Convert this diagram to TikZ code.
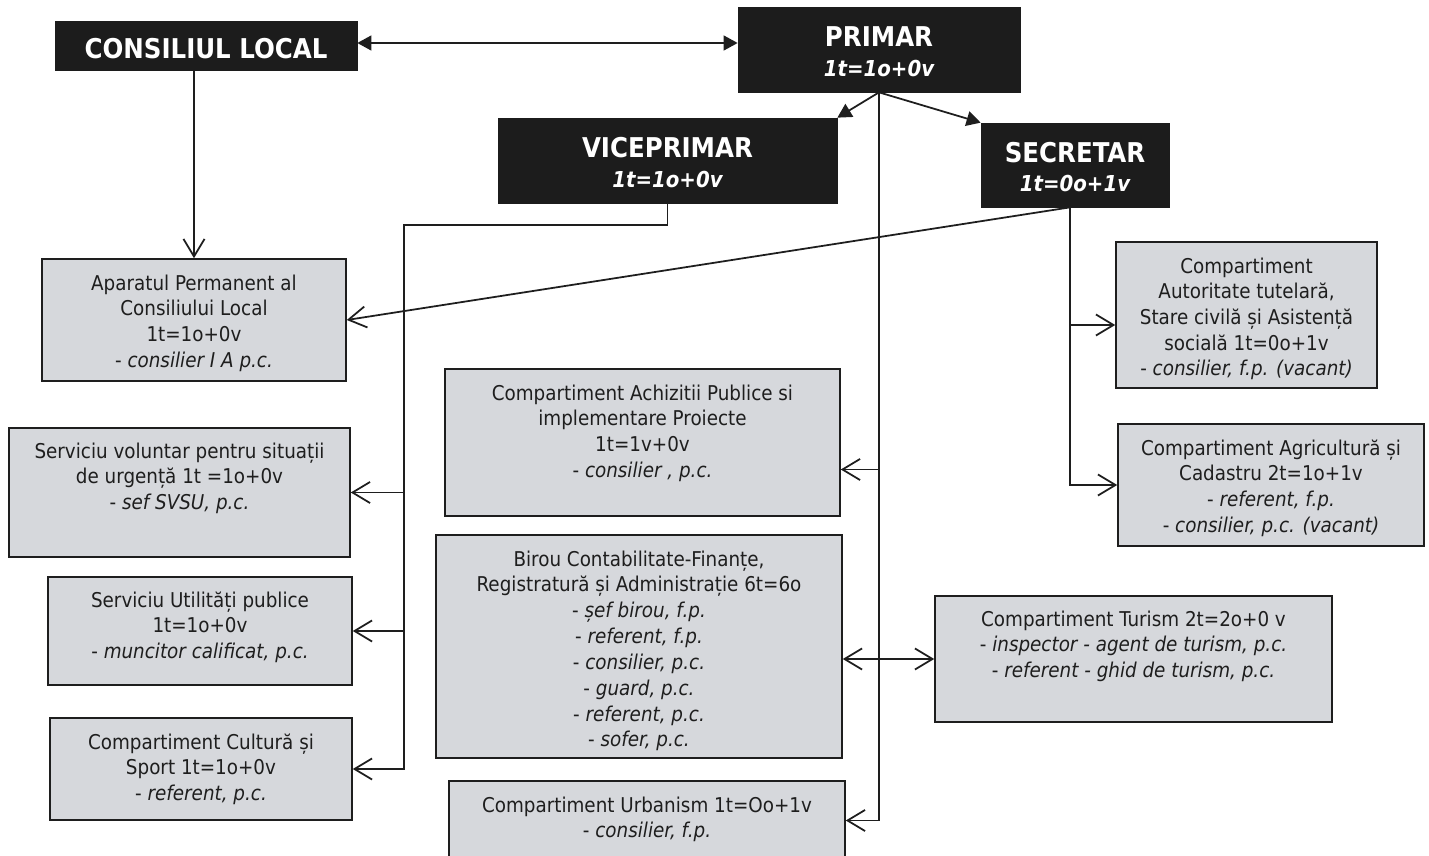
\documentclass[tikz,border=0pt]{standalone}
\usepackage{fontspec}
\setmainfont{DejaVu Sans Condensed}
\usetikzlibrary{arrows.meta,fit,calc}
\definecolor{boxgray}{RGB}{214,216,220}
\definecolor{boxblack}{RGB}{28,28,28}
\definecolor{ink}{RGB}{30,30,30}
\begin{document}
\begin{tikzpicture}[x=0.02cm,y=-0.02cm,
  gbox/.style={draw=ink, line width=0.9pt, fill=boxgray, inner sep=0pt},
  bbox/.style={draw=boxblack, fill=boxblack, inner sep=0pt},
  htxt/.style={align=center, text=white, inner sep=0pt,
               font=\fontsize{15.5}{17}\selectfont\bfseries},
  txt/.style={align=center, font=\fontsize{11.6}{14.6}\selectfont, text=ink, inner sep=0pt, anchor=north},
  con/.style={draw=ink, line width=1pt},
  openarr/.style={con, -{Straight Barb[length=10pt,width=12pt]}},
  solidarr/.style={con, -{Triangle[length=8pt,width=8.5pt]}},
  bothsolid/.style={con, {Triangle[length=8pt,width=8.5pt]}-{Triangle[length=8pt,width=8.5pt]}},
  bothopen/.style={con, {Straight Barb[length=10pt,width=12pt]}-{Straight Barb[length=10pt,width=12pt]}}
]
\useasboundingbox (0,0) rectangle (1429,855);
\fill[white] (0,0) rectangle (1429,855);

% black boxes
\node[bbox, fit={(55,21) (357,70)}] (cl) {};
\node[htxt] (clt) at ($(cl.center)+(0,3)$) {CONSILIUL LOCAL};
\node[bbox, fit={(738,7) (1020,92)}] (pr) {};
\node[htxt] (prt) at ($(pr.center)+(0,2)$) {PRIMAR\\{\fontsize{12.5}{17}\selectfont\itshape 1t=1o+0v}};
\node[bbox, fit={(498,118) (837,203)}] (vp) {};
\node[htxt] (vpt) at ($(vp.center)+(0,2)$) {VICEPRIMAR\\{\fontsize{12.5}{17}\selectfont\itshape 1t=1o+0v}};
\node[bbox, fit={(981,123) (1169,207)}] (sec) {};
\node[htxt] (sect) at ($(sec.center)+(0,2)$) {SECRETAR\\{\fontsize{12.5}{17}\selectfont\itshape 1t=0o+1v}};

% gray boxes
\node[gbox, fit={(42,259) (346,381)}] (ap) {};
\node[txt] (apt) at ($(ap.north)+(0,16)$) {Aparatul Permanent al\\Consiliului Local\\1t=1o+0v\\- \textit{consilier I A p.c.}};

\node[gbox, fit={(9,428) (350,557)}] (sv) {};
\node[txt] (svt) at ($(sv.north)+(0,15)$) {Serviciu voluntar pentru situații\\de urgență 1t =1o+0v\\- \textit{sef SVSU, p.c.}};

\node[gbox, fit={(48,577) (352,685)}] (su) {};
\node[txt] (sut) at ($(su.north)+(0,15)$) {Serviciu Utilități publice\\1t=1o+0v\\- \textit{muncitor calificat, p.c.}};

\node[gbox, fit={(50,718) (352,820)}] (cul) {};
\node[txt] (cult) at ($(cul.north)+(0,16)$) {Compartiment Cultură și\\Sport 1t=1o+0v\\- \textit{referent, p.c.}};

\node[gbox, fit={(445,369) (840,516)}] (ach) {};
\node[txt] (acht) at ($(ach.north)+(0,16)$) {Compartiment Achizitii Publice si\\implementare Proiecte\\1t=1v+0v\\- \textit{consilier , p.c.}};

\node[gbox, fit={(436,535) (842,758)}] (bir) {};
\node[txt, font=\fontsize{11.6}{14.7}\selectfont] (birt) at ($(bir.north)+(0,16)$) {Birou Contabilitate-Finanțe,\\Registratură și Administrație 6t=6o\\- \textit{șef birou, f.p.}\\- \textit{referent, f.p.}\\- \textit{consilier, p.c.}\\- \textit{guard, p.c.}\\- \textit{referent, p.c.}\\- \textit{sofer, p.c.}};

\node[gbox, fit={(449,781) (845,860)}] (urb) {};
\node[txt] (urbt) at ($(urb.north)+(0,16)$) {Compartiment Urbanism 1t=Oo+1v\\- \textit{consilier, f.p.}};

\node[gbox, fit={(935,596) (1332,722)}] (tur) {};
\node[txt] (turt) at ($(tur.north)+(0,15)$) {Compartiment Turism 2t=2o+0 v\\- \textit{inspector - agent de turism, p.c.}\\- \textit{referent - ghid de turism, p.c.}};

\node[gbox, fit={(1116,242) (1377,388)}] (aut) {};
\node[txt] (autt) at ($(aut.north)+(0,16)$) {Compartiment\\Autoritate tutelară,\\Stare civilă și Asistență\\socială 1t=0o+1v\\- \textit{consilier, f.p. (vacant)}};

\node[gbox, fit={(1118,424) (1424,546)}] (agr) {};
\node[txt] (agrt) at ($(agr.north)+(0,16)$) {Compartiment Agricultură și\\Cadastru 2t=1o+1v\\- \textit{referent, f.p.}\\- \textit{consilier, p.c. (vacant)}};

% connectors
\draw[bothsolid] (cl.east |- 0,43) -- (pr.west |- 0,43);
\draw[openarr] (cl.south -| ap.north) -- (ap.north);
\draw[solidarr] (pr.south) -- (vp.north east);
\draw[solidarr] (pr.south) -- (sec.north west);
\draw[openarr] (pr.south) |- (urb.east);
\coordinate (achin) at ($(ach.east)+(0,27)$);
\draw[openarr] (pr.south |- achin) -- (achin);
\draw[bothopen] (tur.west -| bir.east) -- (tur.west);

\coordinate (vb) at (404,225);
\draw[openarr] (vp.south) |- (vb) |- (cul.east);
\draw[openarr] (vb |- sv.east) -- (sv.east);
\draw[openarr] (vb |- su.east) -- (su.east);

\coordinate (sb) at ($(sec.south)+(-5,0)$);
\draw[openarr] (sb) -- (ap.east);
\coordinate (autin) at ($(aut.west)+(0,10)$);
\draw[openarr] (sb) |- (autin);
\draw[openarr] (sb) |- (agr.west);
\end{tikzpicture}
\end{document}
